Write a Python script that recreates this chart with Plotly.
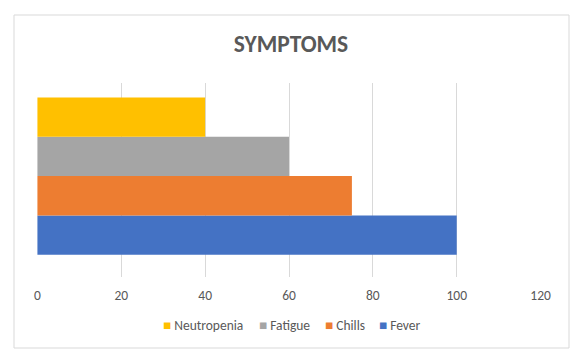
import plotly.graph_objects as go

categories = ["Symptoms"]
series_names = ["Fever", "Chills", "Fatigue", "Neutropenia"]
series_values = [[100], [75], [60], [40]]
series_colors = ["#4472C4", "#ED7D31", "#A5A5A5", "#FFC000"]
x_ticks = [0, 20, 40, 60, 80, 100, 120]

FONT = "Carlito, Calibri, Lato, sans-serif"
TXT = "#595959"

W, H = 579, 358
L, R, T, B = 37, 38, 83, 81
pw, ph = W - L - R, H - T - B


def px_x(p):
    return (p - L) / pw


def px_y(p):
    return (H - B - p) / ph


fig = go.Figure()
for name, vals, col in zip(series_names, series_values, series_colors):
    fig.add_trace(go.Bar(
        y=categories, x=vals, name=name, orientation="h",
        marker=dict(color=col, line=dict(width=0)),
        showlegend=False,
    ))

# legend entries (Excel-like: small square right before the label)
legend_order = ["Neutropenia", "Fatigue", "Chills", "Fever"]
legend_left_px = [166, 262, 328, 382]
legend_keys = ["legend", "legend2", "legend3", "legend4"]
color_of = dict(zip(series_names, series_colors))
legend_layout = {}
for key, nm, lx in zip(legend_keys, legend_order, legend_left_px):
    fig.add_trace(go.Scatter(
        x=[None], y=[None], mode="markers",
        name=f"<span style='color:{color_of[nm]}'>■</span> {nm}",
        marker=dict(size=0, opacity=0, color="rgba(0,0,0,0)", line=dict(width=0)),
        legend=key, showlegend=True, hoverinfo="skip",
    ))
    legend_layout[key] = dict(
        orientation="h", x=px_x(lx - 43), xanchor="left", y=px_y(325), yanchor="middle",
        font=dict(size=13.5, color=TXT, family=FONT), bgcolor="rgba(0,0,0,0)",
        itemwidth=30, borderwidth=0,
    )

fig.update_layout(
    width=W, height=H,
    margin=dict(l=L, r=R, t=T, b=B),
    paper_bgcolor="white", plot_bgcolor="white",
    barmode="group", bargap=0.19, bargroupgap=0,
    title=dict(text="<b>SYMPTOMS</b>", x=291 / W, xref="container", xanchor="center",
               y=1 - 44 / H, yref="container", yanchor="middle",
               font=dict(family=FONT, size=23.5, color=TXT)),
    font=dict(family=FONT, size=13, color=TXT),
    xaxis=dict(range=[-0.1, 120.1], tickvals=x_ticks, showgrid=True, gridcolor="#D9D9D9",
               gridwidth=1, zeroline=False, showline=False, ticks="",
               ticklabelstandoff=8, tickfont=dict(size=13.5, color=TXT)),
    yaxis=dict(showticklabels=False, showgrid=False, zeroline=False, showline=False,
               range=[-0.52, 0.48]),
    showlegend=True,
    hovermode=False,
    shapes=[dict(type="rect", xref="paper", yref="paper",
                 x0=px_x(14), x1=px_x(569), y0=px_y(348), y1=px_y(15),
                 line=dict(color="#D9D9D9", width=1), fillcolor="rgba(0,0,0,0)",
                 layer="below")],
    **legend_layout,
)

fig.write_html("out.html", config={"displayModeBar": False},
               post_script="document.body.style.margin='0';")
